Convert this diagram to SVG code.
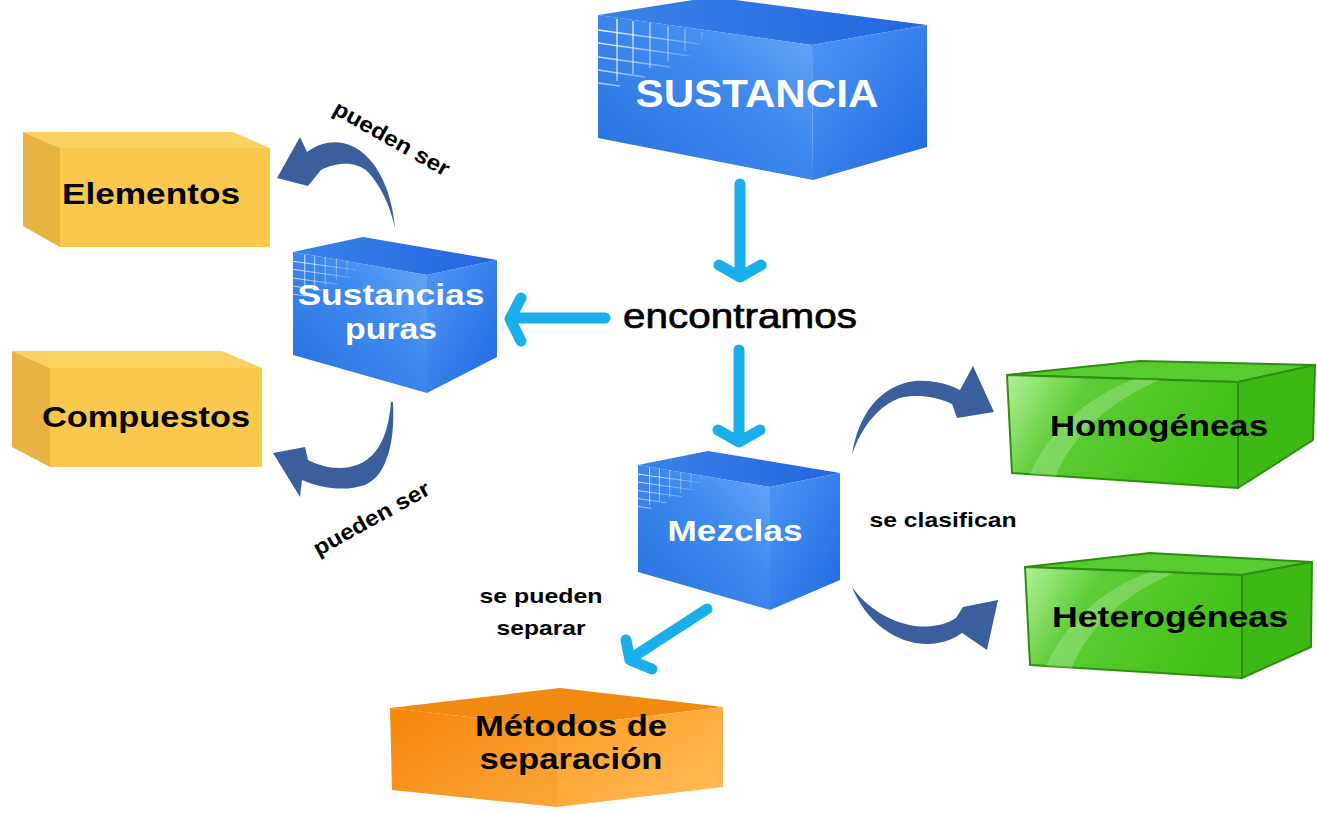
<svg xmlns="http://www.w3.org/2000/svg" xmlns:xlink="http://www.w3.org/1999/xlink" width="1317" height="813" viewBox="0 0 1317 813">
<style>
.t{font-family:"Liberation Sans",Arial,sans-serif;font-weight:bold;}
.w{fill:#ffffff;}
.k{fill:#000000;}
.cy{fill:none;stroke:#1aaeea;stroke-width:11;stroke-linecap:round;stroke-linejoin:round;}
.cur{fill:#3a5f9c;}
.gs{stroke:#2f8d12;stroke-width:2;stroke-linejoin:round;}
</style>
<defs>
<linearGradient id="bF" x1="0" y1="1" x2="1" y2="0">
<stop offset="0" stop-color="#2770e0"/><stop offset="0.6" stop-color="#3f8aee"/><stop offset="1" stop-color="#6ba9f8"/>
</linearGradient>
<linearGradient id="bR" x1="0" y1="0" x2="1" y2="1">
<stop offset="0" stop-color="#4e96f4"/><stop offset="1" stop-color="#1f6ae2"/>
</linearGradient>
<linearGradient id="bT" x1="0" y1="0" x2="1" y2="0">
<stop offset="0" stop-color="#3a82ea"/><stop offset="1" stop-color="#2367de"/>
</linearGradient>
<linearGradient id="gridG" gradientUnits="userSpaceOnUse" x1="0" y1="0" x2="100" y2="70">
<stop offset="0" stop-color="#ffffff" stop-opacity="0.95"/><stop offset="1" stop-color="#ffffff" stop-opacity="0"/>
</linearGradient>
<g id="grid" fill="none" stroke="url(#gridG)" stroke-width="1.6">
<path d="M19,4 V66 M35,6 V59 M52,8 V53 M70,11 V46 M87,14 V36 M104,17 V24"/>
<path d="M0,15 L102,29 M0,28 L92,41 M0,42 L72,52 M0,55 L47,62 M0,68 L22,71"/>
</g>
<linearGradient id="gF" x1="0" y1="0" x2="1" y2="0.3">
<stop offset="0" stop-color="#b4f09a"/><stop offset="0.35" stop-color="#5ccd34"/><stop offset="1" stop-color="#42c018"/>
</linearGradient>
<linearGradient id="oL" x1="0" y1="0" x2="1" y2="1">
<stop offset="0" stop-color="#f5860a"/><stop offset="1" stop-color="#fca63a"/>
</linearGradient>
<linearGradient id="oR" x1="0" y1="0" x2="1" y2="1">
<stop offset="0" stop-color="#ff9d22"/><stop offset="1" stop-color="#ffbd5c"/>
</linearGradient>
<linearGradient id="arr" x1="0" y1="0" x2="1" y2="1">
<stop offset="0" stop-color="#3c64a3"/><stop offset="1" stop-color="#35578f"/>
</linearGradient>
</defs>

<g id="connectors">
<path class="cy" d="M740,184 L740,274 M719,265 L740,277 L761,265"/>
<path class="cy" d="M605,318 L514,318 M521,298 L510,319 L521,341"/>
<path class="cy" d="M739,350 L739,438 M718,430 L739,442 L760,430"/>
<path class="cy" d="M707,609 L633,657 M626,640 L630,660 L652,669"/>
<path class="cur" fill="url(#arr)" d="M395,228 C392,190 375,150 343,143 C328,140 315,146 307,152 L300,137 L277,178 L308,186 L321,170 C335,163 355,160 368,172 C380,185 390,205 395,228 Z"/>
<path class="cur" fill="url(#arr)" d="M391,402 C388,440 375,462 350,467 C335,470 320,466 308,460 L305,447 L273,453 L300,497 L302,480 C320,488 345,492 365,485 C388,475 395,440 393,402 Z"/>
<path class="cur" fill="url(#arr)" d="M852,455 C858,415 880,385 915,381 C935,380 950,385 960,390 L973,366 L994,412 L957,418 L952,404 C935,396 915,394 900,398 C880,405 862,425 852,455 Z"/>
<path class="cur" fill="url(#arr)" d="M852,587 C865,620 895,645 930,644 C945,643 955,638 962,633 L987,650 L998,600 L963,607 L956,618 C945,625 930,628 915,626 C890,622 867,608 852,587 Z"/>
<text class="t k" font-size="22" text-anchor="middle" textLength="130" lengthAdjust="spacingAndGlyphs" transform="translate(388,145) rotate(29.5)">pueden ser</text>
<text class="t k" font-size="22" text-anchor="middle" textLength="130" lengthAdjust="spacingAndGlyphs" transform="translate(375,525) rotate(-29)">pueden ser</text>
<text class="t k" font-size="35" style="font-weight:normal" stroke="#000000" stroke-width="0.7" x="740" y="328" text-anchor="middle" textLength="234" lengthAdjust="spacingAndGlyphs">encontramos</text>
<text class="t k" font-size="21" x="943" y="527" text-anchor="middle" textLength="147" lengthAdjust="spacingAndGlyphs">se clasifican</text>
<text class="t k" font-size="21" x="541" y="603" text-anchor="middle" textLength="123" lengthAdjust="spacingAndGlyphs">se pueden</text>
<text class="t k" font-size="21" x="541" y="635" text-anchor="middle" textLength="89" lengthAdjust="spacingAndGlyphs">separar</text>
</g>

<g id="sustancia">
<polygon fill="url(#bT)" points="598,15 712,-3 927,25 812,45"/>
<polygon fill="url(#bF)" points="598,15 812,45 813,180 598,138"/>
<polygon fill="url(#bR)" points="812,45 927,25 927,147 813,180"/>
<use xlink:href="#grid" href="#grid" transform="translate(598,15)"/>
<text class="t w" font-size="38" x="757" y="107" text-anchor="middle" textLength="243" lengthAdjust="spacingAndGlyphs">SUSTANCIA</text>
</g>

<g id="sustancias-puras">
<polygon fill="url(#bT)" points="293,252 363,237 497,260 427,275"/>
<polygon fill="url(#bF)" points="293,252 427,275 427,393 293,355"/>
<polygon fill="url(#bR)" points="427,275 497,260 497,357 427,393"/>
<use xlink:href="#grid" href="#grid" transform="translate(293,252) scale(0.62)"/>
<text class="t w" font-size="30" x="391" y="305" text-anchor="middle" textLength="187" lengthAdjust="spacingAndGlyphs">Sustancias</text>
<text class="t w" font-size="30" x="391" y="339" text-anchor="middle" textLength="92" lengthAdjust="spacingAndGlyphs">puras</text>
</g>

<g id="mezclas">
<polygon fill="url(#bT)" points="638,465 708,451 840,473 770,487"/>
<polygon fill="url(#bF)" points="638,465 770,487 770,610 638,572"/>
<polygon fill="url(#bR)" points="770,487 840,473 840,580 770,610"/>
<use xlink:href="#grid" href="#grid" transform="translate(638,465) scale(0.61)"/>
<text class="t w" font-size="30" x="735" y="541" text-anchor="middle" textLength="135" lengthAdjust="spacingAndGlyphs">Mezclas</text>
</g>

<g id="elementos">
<polygon fill="#fbd262" points="23,132 233,132 270,148 60,148"/>
<polygon fill="#e7b241" points="23,132 60,148 60,247 23,226"/>
<polygon fill="#f9c84d" points="60,148 270,148 270,247 60,247"/>
<text class="t k" font-size="30" x="151" y="204" text-anchor="middle" textLength="178" lengthAdjust="spacingAndGlyphs">Elementos</text>
</g>

<g id="compuestos">
<polygon fill="#fbd262" points="12,351 222,351 262,368 50,368"/>
<polygon fill="#e7b241" points="12,351 50,368 50,467 12,447"/>
<polygon fill="#f9c84d" points="50,368 262,368 262,467 50,467"/>
<text class="t k" font-size="30" x="146" y="427" text-anchor="middle" textLength="208" lengthAdjust="spacingAndGlyphs">Compuestos</text>
</g>

<g id="homogeneas">
<polygon class="gs" fill="#58cb30" points="1007,375 1140,361 1315,365 1238,382"/>
<polygon class="gs" fill="#3db916" points="1238,382 1315,365 1313,440 1238,488"/>
<polygon class="gs" fill="url(#gF)" points="1007,375 1238,382 1238,488 1012,473"/>
<path fill="#ffffff" fill-opacity="0.22" d="M1030,474 C1048,432 1085,398 1135,379 L1160,380 C1108,402 1072,436 1056,476 Z"/>
<text class="t k" font-size="30" x="1159" y="436" text-anchor="middle" textLength="218" lengthAdjust="spacingAndGlyphs">Homogéneas</text>
</g>

<g id="heterogeneas">
<polygon class="gs" fill="#58cb30" points="1025,567 1150,553 1312,562 1242,575"/>
<polygon class="gs" fill="#3db916" points="1242,575 1312,562 1311,647 1242,678"/>
<polygon class="gs" fill="url(#gF)" points="1025,567 1242,575 1242,678 1030,665"/>
<path fill="#ffffff" fill-opacity="0.22" d="M1046,666 C1064,625 1100,590 1150,572 L1175,573 C1123,594 1088,628 1072,668 Z"/>
<text class="t k" font-size="30" x="1170" y="627" text-anchor="middle" textLength="236" lengthAdjust="spacingAndGlyphs">Heterogéneas</text>
</g>

<g id="metodos">
<polygon fill="#f08a10" points="390,708 560,688 723,707 557,727"/>
<polygon fill="url(#oL)" points="390,708 557,727 557,807 392,790"/>
<polygon fill="url(#oR)" points="557,727 723,707 723,787 557,807"/>
<text class="t k" font-size="30" x="571" y="736" text-anchor="middle" textLength="192" lengthAdjust="spacingAndGlyphs">Métodos de</text>
<text class="t k" font-size="30" x="571" y="769" text-anchor="middle" textLength="183" lengthAdjust="spacingAndGlyphs">separación</text>
</g>
</svg>
